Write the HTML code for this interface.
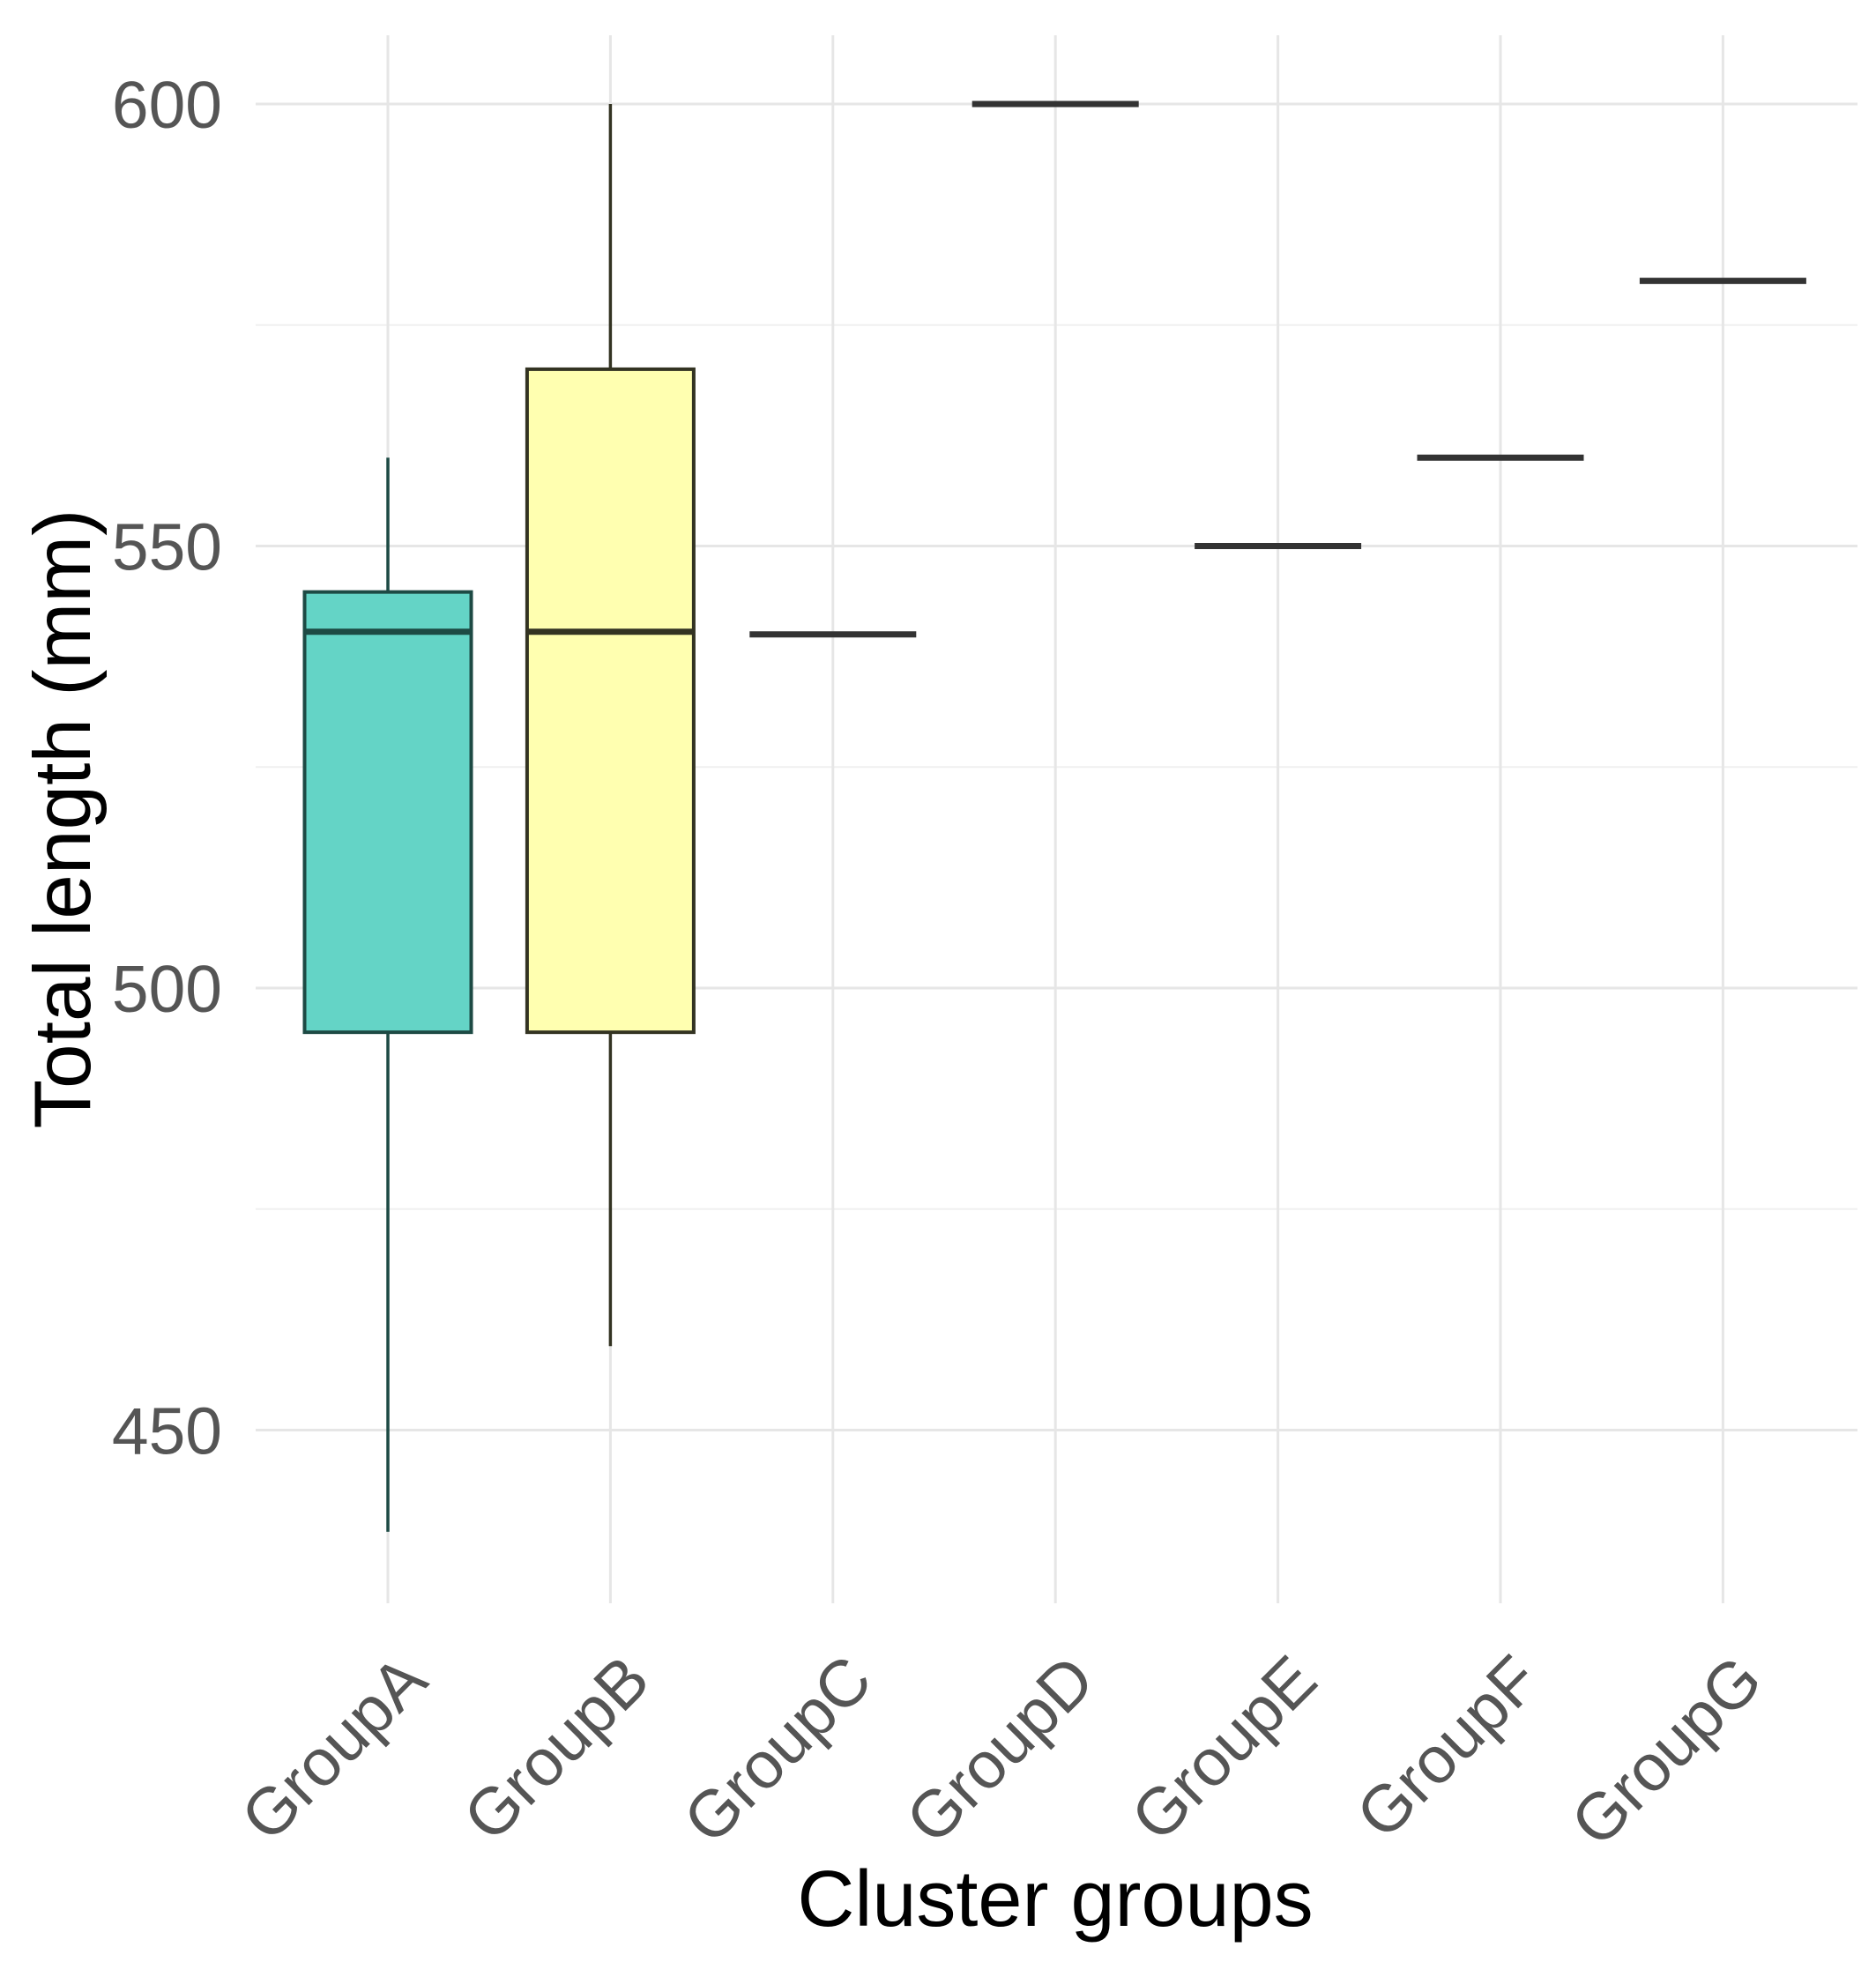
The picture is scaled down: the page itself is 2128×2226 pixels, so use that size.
<!DOCTYPE html>
<html><head><meta charset="utf-8"><style>
html,body{margin:0;padding:0;background:#fff}
svg{display:block}
text{font-family:"Liberation Sans",Arial,sans-serif}
</style></head><body>
<svg id="chart" width="2128" height="2226" viewBox="0 0 2128 2226" xmlns="http://www.w3.org/2000/svg">
<rect width="2128" height="2226" fill="#fff"/>
<g id="grid"></g>
<g id="marks"></g>
<g id="axes"></g>
<text transform="translate(102,929) rotate(-90)" text-anchor="middle" font-size="91" fill="#000">Total length (mm)</text>
<text x="1197" y="2185" text-anchor="middle" font-size="90" fill="#000">Cluster groups</text>
</svg>
<script>
const categories = ["GroupA","GroupB","GroupC","GroupD","GroupE","GroupF","GroupG"];
const whiskerLow = [438.5, 459.5, 540, 600, 550, 560, 580];
const q1Values = [495, 495, 540, 600, 550, 560, 580];
const medianValues = [540.3, 540.3, 540, 600, 550, 560, 580];
const q3Values = [544.8, 570, 540, 600, 550, 560, 580];
const whiskerHigh = [560, 600, 540, 600, 550, 560, 580];
const fills = ["#64d4c6","#ffffb0","#cccccc","#cccccc","#cccccc","#cccccc","#cccccc"];
const strokes = ["#1d4a44","#333322","#333333","#333333","#333333","#333333","#333333"];
const majorTicks = [450, 500, 550, 600];
const minorTicks = [475, 525, 575];

const NS = "http://www.w3.org/2000/svg";
const panel = {left: 290, right: 2107, top: 40, bottom: 1819};
function yScale(v){ return 118 + (600 - v) * 10.03; }
function xScale(i){ return 440 + i * 252.4; }
const bandW = 189;

function mk(tag, attrs, parent){
  const e = document.createElementNS(NS, tag);
  for (const k in attrs) e.setAttribute(k, attrs[k]);
  parent.appendChild(e);
  return e;
}
const grid = document.getElementById('grid');
const marks = document.getElementById('marks');
const axes = document.getElementById('axes');

minorTicks.forEach(v => {
  const l = mk('line', {x1: panel.left, x2: panel.right, y1: yScale(v), y2: yScale(v), stroke: '#f0f0f0', 'stroke-width': 2}, grid);
  
  
});
majorTicks.forEach(v => {
  const l = mk('line', {x1: panel.left, x2: panel.right, y1: yScale(v), y2: yScale(v), stroke: '#e6e6e6', 'stroke-width': 3}, grid);
  
  
  const t = mk('text', {x: 252, y: yScale(v) + 27, 'text-anchor': 'end', 'font-size': 75, fill: '#555'}, axes);
  t.textContent = v;
  
  
});
categories.forEach((c, i) => {
  const x = xScale(i);
  const l = mk('line', {x1: x, x2: x, y1: panel.top, y2: panel.bottom, stroke: '#e6e6e6', 'stroke-width': 3}, grid);
  
  

  const g = mk('g', {}, marks);
  
  
  const s = strokes[i];
  mk('line', {x1: x, x2: x, y1: yScale(whiskerHigh[i]), y2: yScale(q3Values[i]), stroke: s, 'stroke-width': 3.5}, g);
  mk('line', {x1: x, x2: x, y1: yScale(q1Values[i]), y2: yScale(whiskerLow[i]), stroke: s, 'stroke-width': 3.5}, g);
  const h = yScale(q1Values[i]) - yScale(q3Values[i]);
  if (h > 1) {
    mk('rect', {x: x - bandW/2, y: yScale(q3Values[i]), width: bandW, height: h, fill: fills[i], stroke: s, 'stroke-width': 4}, g);
  }
  mk('line', {x1: x - bandW/2, x2: x + bandW/2, y1: yScale(medianValues[i]), y2: yScale(medianValues[i]), stroke: s, 'stroke-width': 7}, g);

  const ax = x + 10, ay = 1872;
  const t = mk('text', {x: ax, y: ay, dy: '0.72em', 'text-anchor': 'end', 'font-size': 75, fill: '#555', transform: 'rotate(-45 ' + ax + ' ' + ay + ')'}, axes);
  t.textContent = c;
  
  
});
</script>
</body></html>
